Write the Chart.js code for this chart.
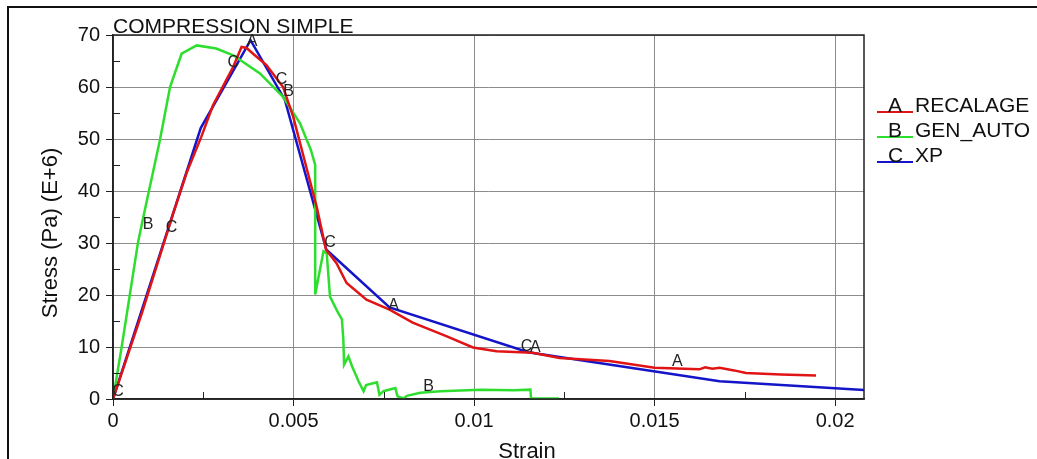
<!DOCTYPE html>
<html>
<head>
<meta charset="utf-8">
<script src="https://cdn.jsdelivr.net/npm/chart.js@4.4.1/dist/chart.umd.min.js"></script>
<style>
  html, body { margin: 0; padding: 0; background: #fff; }
  #wrap { width: 1037px; height: 459px; position: relative; }
</style>
</head>
<body>
<div id="wrap"><canvas id="line_chart" width="1037" height="459"></canvas></div>
<script>
// #Datos (strain, stress en E+6 Pa)
const strainA = [0, 0.0008, 0.00166, 0.00204, 0.00245, 0.00277, 0.00333, 0.00356, 0.0037, 0.00388, 0.00425, 0.00471, 0.00499, 0.00535, 0.00564, 0.0059, 0.00619, 0.00647, 0.00702, 0.00766, 0.0083, 0.00923, 0.00997, 0.01062, 0.01162, 0.01237, 0.01375, 0.015, 0.01624, 0.0164, 0.0166, 0.0168, 0.0172, 0.01753, 0.0185, 0.01947];
const stressA = [0, 16.5, 35.5, 43.5, 50.5, 56.5, 63.9, 67.7, 67.5, 66.4, 64.2, 60, 54.3, 44.7, 37, 28.7, 26.1, 22.3, 19.1, 17.2, 14.7, 12.1, 9.9, 9.2, 8.9, 7.9, 7.3, 6.0, 5.7, 6.1, 5.8, 6.0, 5.5, 5.0, 4.7, 4.5];

const strainB = [0, 0.00024, 0.00069, 0.00084, 0.0013, 0.00158, 0.0019, 0.00232, 0.00286, 0.00333, 0.00407, 0.00471, 0.00518, 0.00548, 0.0056, 0.0056, 0.00583, 0.00592, 0.00601, 0.00624, 0.00634, 0.00638, 0.0064, 0.00652, 0.00662, 0.0068, 0.00694, 0.00701, 0.00731, 0.00738, 0.00749, 0.00782, 0.00788, 0.00805, 0.00814, 0.00851, 0.00907, 0.01018, 0.0111, 0.01156, 0.01158, 0.01235];
const stressB = [0, 10, 30, 35, 49.8, 60, 66.4, 68, 67.4, 66.1, 62.6, 58.1, 53, 47.9, 45, 20.1, 28.4, 28, 19.7, 16.5, 15.3, 11.4, 6.6, 8.2, 6.3, 3.4, 1.5, 2.7, 3.2, 0.8, 1.5, 2.1, 0.5, 0.1, 0.6, 1.2, 1.5, 1.8, 1.7, 1.8, 0.1, 0.1];

const strainC = [0, 0.00243, 0.00381, 0.00476, 0.00591, 0.00766, 0.0115, 0.0168, 0.0209];
const stressC = [0, 52.1, 69, 57.5, 28.7, 17.6, 9.0, 3.4, 1.7];

// letras de marca sobre las curvas
const markA = [[0.00385, 68.7], [0.00777, 17.9], [0.0117, 9.8], [0.01563, 7.2]];
const markB = [[0.00097, 33.5], [0.00486, 59.1], [0.00874, 2.3]];
const markC = [[0.00014, 1.5], [0.00162, 32.9], [0.00333, 64.6], [0.00467, 61.4], [0.00601, 30], [0.01145, 10.1]];

const seriesNames = ['A', 'B', 'C'];
const seriesLabels = ['RECALAGE', 'GEN_AUTO', 'XP'];
const seriesColors = ['#e01414', '#2ede2e', '#1414c8'];

const xTicksMinor = [0.0025, 0.0075, 0.0125, 0.0175];
const yTicksMinor = [5, 15, 25, 35, 45, 55, 65];

const FONT = '"Liberation Sans", Arial, sans-serif';

function toPoints(xs, ys) {
    let pts = [];
    for (let i = 0; i < xs.length; i++) {
        pts.push({ x: xs[i], y: ys[i] });
    }
    return pts;
}

// #Plugin: marco, titulos, ticks menores, letras y leyenda
const extras = {
    id: 'extras',
    beforeDraw(chart) {
        const ctx = chart.ctx;
        ctx.save();
        ctx.fillStyle = '#fff';
        ctx.fillRect(0, 0, chart.width, chart.height);
        ctx.strokeStyle = '#111';
        ctx.lineWidth = 2;
        ctx.beginPath();
        ctx.moveTo(8, chart.height);
        ctx.lineTo(8, 7);
        ctx.lineTo(chart.width, 7);
        ctx.stroke();
        ctx.restore();
    },
    afterDatasetsDraw(chart) {
        const ctx = chart.ctx;
        const a = chart.chartArea;
        const xs = chart.scales.x, ys = chart.scales.y;
        ctx.save();

        // marco del grafico
        ctx.strokeStyle = '#222';
        ctx.lineWidth = 1.5;
        ctx.strokeRect(a.left, a.top, a.right - a.left, a.bottom - a.top);

        // ticks menores hacia dentro
        ctx.lineWidth = 1;
        ctx.beginPath();
        xTicksMinor.forEach(v => {
            const px = Math.round(xs.getPixelForValue(v)) + 0.5;
            ctx.moveTo(px, a.bottom);
            ctx.lineTo(px, a.bottom - 7);
        });
        yTicksMinor.forEach(v => {
            const py = Math.round(ys.getPixelForValue(v)) + 0.5;
            ctx.moveTo(a.left, py);
            ctx.lineTo(a.left + 7, py);
        });
        ctx.stroke();

        // letras sobre las curvas
        ctx.fillStyle = '#222';
        ctx.font = '16px ' + FONT;
        ctx.textAlign = 'center';
        ctx.textBaseline = 'middle';
        [markA, markB, markC].forEach((marks, k) => {
            marks.forEach(m => {
                ctx.fillText(seriesNames[k], xs.getPixelForValue(m[0]), ys.getPixelForValue(m[1]));
            });
        });

        // titulo
        ctx.fillStyle = '#111';
        ctx.textAlign = 'left';
        ctx.textBaseline = 'alphabetic';
        ctx.font = '21px ' + FONT;
        ctx.fillText('COMPRESSION SIMPLE', a.left, a.top - 2);

        // titulos de ejes
        ctx.font = '22px ' + FONT;
        ctx.textAlign = 'center';
        ctx.fillText('Strain', 527, 458);
        ctx.save();
        ctx.translate(57, 233);
        ctx.rotate(-Math.PI / 2);
        ctx.fillText('Stress (Pa) (E+6)', 0, 0);
        ctx.restore();

        // leyenda
        ctx.font = '21px ' + FONT;
        ctx.textAlign = 'left';
        for (let i = 0; i < 3; i++) {
            const base = 112 + i * 25;
            ctx.strokeStyle = seriesColors[i];
            ctx.lineWidth = 2;
            ctx.beginPath();
            ctx.moveTo(877, base);
            ctx.lineTo(913, base);
            ctx.stroke();
            ctx.fillStyle = '#111';
            ctx.fillText(seriesNames[i], 888, base);
            ctx.fillText(seriesLabels[i], 915, base);
        }
        ctx.restore();
    }
};

function getDatasets() {
    const xs = [strainA, strainB, strainC];
    const ys = [stressA, stressB, stressC];
    let sets = [];
    for (let i = 0; i < 3; i++) {
        sets.push({
            label: seriesNames[i] + ' ' + seriesLabels[i],
            data: toPoints(xs[i], ys[i]),
            borderColor: seriesColors[i],
            backgroundColor: seriesColors[i],
            borderWidth: 2.5,
            pointRadius: 0,
            showLine: true,
            tension: 0,
            fill: false
        });
    }
    return sets;
}

const config = {
    type: 'scatter',
    data: { datasets: getDatasets() },
    options: {
        responsive: false,
        animation: false,
        layout: { padding: { left: 0, top: 35, right: 173, bottom: 0 } },
        plugins: {
            legend: { display: false },
            title: { display: false },
            tooltip: { enabled: false }
        },
        scales: {
            x: {
                type: 'linear',
                min: 0,
                max: 0.0208,
                afterFit: s => { s.height = 60; },
                border: { display: true, color: '#222', width: 1.5 },
                grid: { color: '#8c8c8c', lineWidth: 1, tickColor: '#222', tickLength: 7 },
                ticks: {
                    stepSize: 0.005,
                    includeBounds: false,
                    maxRotation: 0,
                    padding: 3,
                    color: '#111',
                    font: { family: FONT, size: 20 },
                    callback: v => String(+v.toFixed(4))
                }
            },
            y: {
                type: 'linear',
                min: 0,
                max: 70,
                afterFit: s => { s.width = 113; },
                border: { display: true, color: '#222', width: 1.5 },
                grid: { color: '#8c8c8c', lineWidth: 1, tickColor: '#222', tickLength: 7 },
                ticks: {
                    stepSize: 10,
                    padding: 6,
                    color: '#111',
                    font: { family: FONT, size: 20 }
                }
            }
        }
    },
    plugins: [extras]
};

new Chart(document.getElementById("line_chart").getContext("2d"), config);
</script>
</body>
</html>
